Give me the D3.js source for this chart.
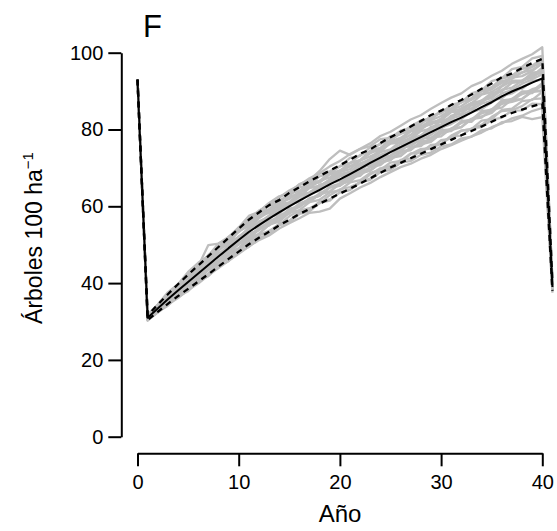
<!DOCTYPE html>
<html><head><meta charset="utf-8">
<script src="https://cdn.jsdelivr.net/npm/d3@7"></script>
<style>
body{margin:0;background:#fff}
svg{display:block}
text{font-family:"Liberation Sans",Arial,Helvetica,sans-serif;fill:#000}
</style>
</head><body>
<svg id="chart" width="557" height="531"></svg>
<script>
// ---------- data ----------
const years = [0,1,2,3,4,5,6,7,8,9,10,11,12,13,14,15,16,17,18,19,20,21,22,23,24,25,26,27,28,29,30,31,32,33,34,35,36,37,38,39,40,41];
const meanSeries = [93,31,33.4,35.8,38.1,40.3,42.5,44.7,46.9,49.1,51.2,53.3,55.1,56.8,58.4,60,61.5,62.9,64.3,65.7,67,68.4,69.8,71.3,72.7,74.1,75.4,76.7,78,79.3,80.6,81.9,83.1,84.4,85.8,87.1,88.6,89.9,91,92.2,93.3,39];
const upperSeries = [93,31.6,34.4,37.1,39.7,42.2,44.6,47,49.4,51.8,54.2,56.5,58.4,60.3,61.6,63.5,65,66.5,67.9,69.3,70.7,72.1,73.7,74.8,76.5,78,79.4,80.8,82.2,83.8,84.9,86.4,87.7,89.1,90.6,92,93.6,94.6,96,97.3,98.4,40];
const lowerSeries = [93,30.4,32.5,34.6,36.6,38.5,40.4,42.3,44.3,46.3,48.2,50.1,51.8,53.4,55,56.5,58,59.3,60.7,62,63.3,64.6,65.9,67.3,68.7,70.1,71.3,72.5,73.7,74.9,76.1,77.3,78.5,79.6,80.8,82,83.3,84.3,85.2,86,86.8,38];

const sim01 = [93,31.6,34.3,36.9,39.5,42.0,44.6,47.0,49.3,51.7,54.2,56.9,58.6,60.6,62.3,64.1,65.5,67.3,68.6,70.4,71.8,73.6,75.0,76.4,78.3,79.4,81.0,82.6,83.7,85.4,86.9,88.3,89.4,91.3,92.4,94.0,95.3,97.1,98.4,99.6,101.4,40.6];
const sim02 = [93,30.3,32.3,34.4,36.1,38.2,39.9,42.0,43.9,45.8,47.6,49.5,51.2,52.4,54.2,55.6,56.9,58.3,58.6,59.4,62.0,63.4,64.9,66.1,67.6,68.9,70.2,71.1,72.4,73.4,74.9,75.9,77.1,78.2,79.2,80.6,81.6,82.9,83.6,84.8,85.6,37.8];
const sim03 = [93,31.4,34.0,37.2,39.3,42.3,44.0,46.9,49.4,51.1,54.2,55.7,58.3,59.2,61.6,62.7,64.9,65.6,67.8,68.5,70.4,71.2,73.4,74.2,76.4,77.1,79.2,79.8,82.0,82.6,84.8,85.3,87.4,88.0,90.4,90.9,93.3,94.0,96.0,96.6,98.5,40.2];
const sim04 = [93,30.6,32.8,34.5,36.5,39.1,40.4,42.5,45.3,46.9,48.2,50.9,52.6,53.6,55.2,57.4,58.9,59.5,60.8,62.9,64.4,65.0,66.2,68.3,69.9,70.5,71.6,73.6,74.9,75.2,76.3,78.4,79.7,80.1,81.2,83.3,84.8,85.0,86.1,87.9,88.1,38.6];
const sim05 = [93,31.1,34.1,36.0,38.9,41.5,42.9,45.3,48.4,50.6,52.0,54.3,56.9,58.6,59.3,61.0,63.4,64.9,65.2,66.8,68.9,70.5,71.0,72.4,74.8,76.3,76.6,77.9,80.3,81.6,81.9,83.2,85.5,86.9,87.2,88.6,91.2,92.7,92.8,93.9,96.1,39.6];
const sim06 = [93,30.9,32.7,35.6,37.2,39.9,41.4,44.2,45.6,47.7,50.5,51.6,54.3,55.1,57.5,58.2,60.7,61.1,63.4,63.8,65.9,66.4,68.9,69.3,71.6,72.0,74.4,74.6,76.9,77.1,79.4,79.6,81.9,82.0,84.4,84.6,87.2,87.3,89.4,89.5,91.6,38.9];
const sim07 = [93,31.0,33.2,36.1,37.9,40.6,42.2,44.9,47.3,48.8,51.0,53.6,54.8,57.1,58.0,60.4,61.2,63.3,64.0,66.1,66.6,68.8,69.5,71.7,72.3,74.5,75.0,77.1,77.6,79.7,80.2,82.3,82.7,84.8,85.3,87.6,88.1,90.3,90.6,92.6,93.0,39.2];
const sim08 = [93,31.2,33.5,36.4,38.2,40.9,43.3,44.9,47.1,50.1,51.6,54.5,55.7,57.6,59.9,60.8,62.4,64.8,65.3,67.0,68.9,69.7,71.9,73.0,74.2,76.5,77.2,78.6,80.8,81.3,82.9,84.9,85.4,86.8,89.1,89.8,91.4,93.5,93.9,95.2,97.3,40.1];
const sim09 = [93,31.1,33.0,35.8,37.5,40.3,41.7,44.6,45.9,48.8,50.0,52.9,53.8,56.3,57.0,59.4,59.9,62.1,62.7,64.9,65.3,67.5,67.9,70.3,70.7,72.9,73.2,75.4,75.7,77.9,78.2,80.3,80.6,82.7,83.1,85.2,85.7,87.8,87.9,89.9,90.0,38.4];
const sim10 = [93,31.5,33.9,37.0,39.0,41.9,43.6,46.5,49.1,50.7,53.6,55.0,57.5,58.3,60.5,61.0,63.1,63.5,65.6,65.9,67.9,68.2,70.3,70.6,72.9,73.2,75.4,75.6,77.6,77.8,79.8,80.0,82.2,82.5,84.8,85.1,87.6,87.9,89.9,90.0,92.1,39.4];
const sim11 = [93,30.7,32.4,35.2,36.7,39.4,40.8,43.4,44.8,47.5,48.9,51.4,52.8,55.3,56.4,58.9,59.8,62.0,62.8,65.1,65.9,68.3,69.0,71.5,72.3,74.8,75.4,77.7,78.4,80.7,81.3,83.6,84.1,86.3,87.0,89.2,89.9,92.2,92.6,94.8,95.1,39.8];
const sim12 = [93,31.3,34.2,36.4,39.4,41.2,44.1,45.8,48.8,50.4,53.5,54.9,57.4,59.2,60.1,62.5,63.3,65.6,66.2,68.3,69.1,71.3,72.0,74.5,75.2,77.4,78.9,79.6,81.3,83.6,84.2,86.5,87.0,89.4,90.2,92.6,93.4,95.7,96.3,98.5,99.2,40.3];
const sim13 = [93,30.5,32.6,35.3,36.8,39.5,40.9,43.6,45.1,47.8,49.1,51.7,52.8,55.2,56.0,58.3,59.0,61.1,61.7,63.6,64.2,66.2,66.8,68.7,69.5,71.4,71.8,73.8,74.0,76.0,76.2,78.1,78.4,80.3,80.6,82.5,83.1,84.9,85.0,86.7,86.6,38.1];
const sim14 = [93,31.6,34.0,37.0,39.2,42.1,44.1,46.9,49.4,51.3,54.5,56.3,58.9,60.1,62.4,63.6,65.8,66.8,69.2,72.3,74.5,73.4,74.9,75.7,77.5,77.8,79.7,80.4,82.3,82.9,84.6,85.2,87.1,87.7,89.9,90.4,92.6,93.2,94.9,95.5,97.2,40.0];
const sim15 = [93,30.4,32.7,34.4,36.9,38.3,40.9,42.3,44.9,46.4,48.8,50.1,52.4,53.4,55.5,56.3,58.5,59.2,61.2,61.8,63.6,64.3,66.2,66.9,68.9,69.5,71.3,71.8,73.4,74.0,75.6,76.1,77.7,78.1,79.8,80.3,81.9,82.2,83.3,82.7,83.2,37.5];
const sim16 = [93,31.5,34.0,36.9,39.2,42.0,44.4,49.9,50.3,51.5,53.3,55.6,57.2,58.9,60.8,61.9,63.8,64.9,66.6,67.5,69.4,70.4,72.0,73.8,74.9,76.9,77.8,79.6,80.7,82.4,83.5,85.2,86.1,87.8,89.2,90.6,92.1,93.6,94.8,96.4,97.4,40.4];
const sim17 = [93,30.9,33.3,35.4,37.9,39.8,42.2,44.1,46.0,48.6,50.2,52.1,54.4,55.6,57.7,58.5,60.6,61.9,62.8,64.9,65.4,67.0,68.7,69.4,71.2,72.6,73.1,75.2,76.1,76.8,78.9,79.8,80.6,82.8,83.4,84.3,86.7,87.2,88.0,89.9,90.2,38.8];
const sim18 = [93,31.1,33.6,35.9,38.6,40.5,42.8,45.3,47.0,49.6,51.8,53.4,55.8,57.0,58.9,60.7,61.6,63.7,64.8,66.1,67.9,68.6,70.5,71.6,73.4,74.4,76.2,77.1,78.4,80.2,81.0,82.8,83.7,85.1,86.7,87.5,89.4,90.3,91.9,93.1,94.4,39.5];
const sim19 = [93,30.8,32.9,35.1,37.6,39.5,41.6,44.0,45.7,48.0,50.3,51.9,53.9,55.8,57.1,58.8,60.6,61.7,63.3,64.9,65.8,67.6,68.9,70.1,72.0,73.2,74.5,76.2,77.3,78.6,80.5,81.4,82.9,84.6,85.3,87.0,88.7,89.4,91.0,92.5,93.1,39.0];
const sim20 = [93,31.7,34.2,37.3,39.5,42.5,44.3,47.3,49.1,52.1,53.9,56.7,57.9,60.2,61.0,63.3,64.0,66.1,66.6,68.8,69.2,71.3,71.9,74.2,74.7,76.9,77.4,79.5,79.9,82.0,82.4,84.5,84.8,86.9,87.5,89.5,90.2,92.2,92.4,94.4,94.6,39.7];
const sim21 = [93,30.2,32.5,34.1,36.6,37.9,40.5,41.8,44.4,45.7,48.3,49.4,51.8,52.7,55.0,55.9,58.0,58.7,60.9,61.5,63.7,64.3,66.4,67.2,69.4,70.0,72.1,72.5,74.6,75.1,77.2,77.6,79.7,80.1,82.3,82.7,85.1,85.4,87.4,87.7,89.8,37.9];
const sim22 = [93,31.8,34.4,37.6,39.7,42.9,45.3,47.1,50.3,52.0,54.5,57.5,58.6,60.9,62.6,63.4,65.7,66.3,68.5,69.1,70.4,72.6,73.1,75.4,76.1,78.3,78.8,80.9,82.3,82.8,85.0,85.5,87.5,88.1,90.5,91.0,93.3,93.9,95.8,96.2,98.4,40.8];
const sim23 = [93,31.2,33.8,35.9,38.8,40.6,43.4,44.9,47.8,49.3,52.2,53.6,56.1,57.2,59.6,60.5,62.7,63.5,65.6,66.2,68.4,69.0,71.2,72.0,74.1,74.8,76.9,77.5,79.6,80.2,82.3,82.9,84.9,85.5,87.6,88.2,90.3,90.9,92.7,93.5,95.3,39.3];
const sim24 = [93,30.7,33.1,35.0,37.4,39.2,41.9,43.5,46.1,47.6,50.2,51.5,54.0,55.0,57.2,58.1,60.2,61.2,63.1,63.9,65.9,66.6,68.5,69.3,71.3,72.1,73.9,74.8,76.6,77.5,79.2,80.2,81.7,82.7,84.2,85.3,86.8,88.0,89.2,90.5,91.2,38.7];
const simSeries = [sim01,sim02,sim03,sim04,sim05,sim06,sim07,sim08,sim09,sim10,sim11,sim12,sim13,sim14,sim15,sim16,sim17,sim18,sim19,sim20,sim21,sim22,sim23,sim24];

const xTickValues = [0,10,20,30,40];
const yTickValues = [0,20,40,60,80,100];
const panelLabel = "F";
const xTitle = "Año";
const yTitleMain = "Árboles 100 ha";
const yTitleSup = "\u22121";

// ---------- chart ----------
const svg = d3.select("#chart");
const x = d3.scaleLinear().domain([0,40]).range([137.5,542.3]);
const y = d3.scaleLinear().domain([0,100]).range([436.7,52.7]);

const line = d3.line().x((d,i)=>x(years[i])).y(d=>y(d));

const gSim = svg.append("g");
simSeries.forEach(s=>{
  gSim.append("path").attr("d",line(s)).attr("fill","none")
    .attr("stroke","#bebebe").attr("stroke-width",2.3).attr("stroke-linejoin","round");
});

[upperSeries,lowerSeries].forEach(s=>{
  svg.append("path").attr("d",line(s)).attr("fill","none")
    .attr("stroke","#000").attr("stroke-width",2.3).attr("stroke-dasharray","6,5");
});

svg.append("path").attr("d",line(meanSeries)).attr("fill","none")
  .attr("stroke","#000").attr("stroke-width",2).attr("stroke-linejoin","round");

// axes
const yAxis = d3.axisLeft(y).tickValues(yTickValues).tickSize(13).tickSizeOuter(0).tickPadding(5);
const gy = svg.append("g").attr("transform","translate(121.3,0)").call(yAxis);
const xAxis = d3.axisBottom(x).tickValues(xTickValues).tickSize(13).tickSizeOuter(0).tickPadding(9);
const gx = svg.append("g").attr("transform","translate(0,453.3)").call(xAxis);
[gx,gy].forEach(g=>{
  g.selectAll("path.domain").attr("stroke","#000").attr("stroke-width",2);
  g.selectAll(".tick line").attr("stroke","#000").attr("stroke-width",2);
  g.selectAll(".tick text").attr("font-size",20).attr("font-family","'Liberation Sans',Arial,sans-serif").attr("fill","#000");
});

svg.append("text").attr("x",340).attr("y",522).attr("text-anchor","middle")
  .attr("font-size",24).text(xTitle);

const yt = svg.append("text").attr("transform","translate(42,238) rotate(-90)")
  .attr("text-anchor","middle").attr("font-size",23);
yt.append("tspan").text(yTitleMain);
yt.append("tspan").attr("font-size",15).attr("dy",-9).text(yTitleSup);

svg.append("text").attr("x",143).attr("y",37).attr("font-size",31).text(panelLabel);
</script>
</body></html>
